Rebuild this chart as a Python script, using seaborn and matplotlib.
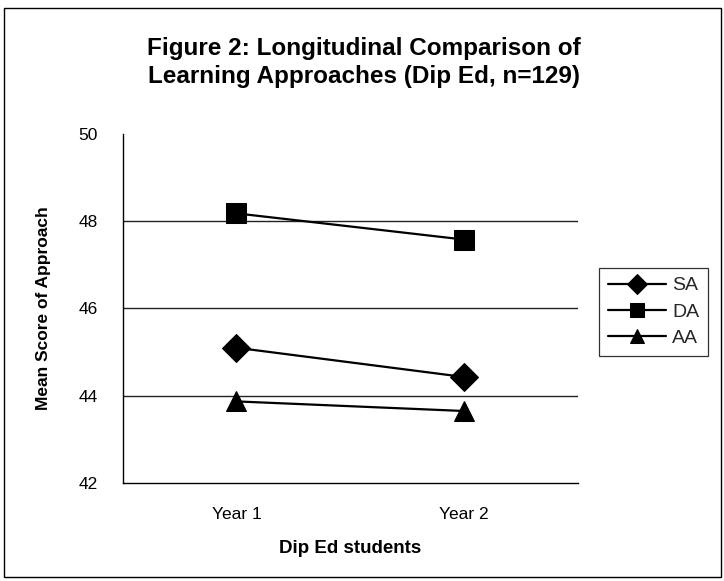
import matplotlib
matplotlib.use("Agg")
import matplotlib.pyplot as plt
import seaborn as sns
import pandas as pd
from matplotlib.patches import Rectangle

years = ["Year 1", "Year 2"]
approaches = ["SA", "DA", "AA"]
sa_values = [45.1, 44.43]
da_values = [48.18, 47.58]
aa_values = [43.87, 43.65]
y_ticks = [42, 44, 46, 48, 50]

rows = []
for name, vals in zip(approaches, [sa_values, da_values, aa_values]):
    for yr, v in zip(years, vals):
        rows.append({"Year": yr, "Approach": name, "Score": v})
df = pd.DataFrame(rows)

sns.set_theme(style="white")
plt.rcParams["font.family"] = ["Liberation Sans", "DejaVu Sans"]

fig = plt.figure(figsize=(7.24, 5.81), dpi=100)
ax = fig.add_axes([0.1695, 0.1687, 0.798 - 0.1695, 0.7694 - 0.1687])

sns.lineplot(
    data=df, x="Year", y="Score", hue="Approach", style="Approach",
    hue_order=approaches, style_order=approaches,
    palette={"SA": "black", "DA": "black", "AA": "black"},
    markers={"SA": "D", "DA": "s", "AA": "^"}, dashes=False,
    markersize=14, linewidth=1.6, markeredgecolor="black",
    ax=ax, sort=False,
)

ax.set_xlim(-0.5, 1.5)
ax.set_ylim(42, 50)
ax.set_yticks(y_ticks)
ax.set_yticklabels([str(t) for t in y_ticks], fontsize=12.5)
ax.set_xticks([0, 1])
ax.set_xticklabels(years, fontsize=12.5)
ax.set_xticks([1.5], minor=True)
for y in [44, 46, 48]:
    ax.axhline(y, color="#222222", linewidth=1.0, zorder=0)

for s in ["top", "right"]:
    ax.spines[s].set_visible(False)
for s in ["left", "bottom"]:
    ax.spines[s].set_color("black")
    ax.spines[s].set_linewidth(1.0)
ax.tick_params(axis="y", direction="out", length=6, width=1, color="black", pad=12, labelcolor="black")
ax.tick_params(axis="x", which="major", length=0, pad=17, labelcolor="black")
ax.tick_params(axis="x", which="minor", direction="out", length=4, width=1, color="black")

ax.set_xlabel("Dip Ed students", fontsize=13.5, fontweight="bold", labelpad=13, color="black")
ax.set_ylabel("Mean Score of Approach", fontsize=12.5, fontweight="bold", labelpad=20, color="black")

fig.text(0.503, 0.892, "Figure 2: Longitudinal Comparison of\nLearning Approaches (Dip Ed, n=129)",
         ha="center", va="center", fontsize=17.5, fontweight="bold", linespacing=1.3, color="black")

leg = ax.legend(loc="upper left", bbox_to_anchor=(599 / 724, 1 - 268 / 581), bbox_transform=fig.transFigure,
                borderaxespad=0, frameon=True, fancybox=False, edgecolor="black", fontsize=14,
                markerscale=0.7, handlelength=3.0, handletextpad=0.3, borderpad=0.45, labelspacing=0.45,
                title=None)
leg.get_frame().set_linewidth(0.9)

fig.patches.append(Rectangle((4 / 724, 1 - 577 / 581), 717 / 724, 569 / 581, transform=fig.transFigure,
                             fill=False, edgecolor="black", linewidth=1.0))

fig.savefig("out.png", dpi=100, facecolor="white")
